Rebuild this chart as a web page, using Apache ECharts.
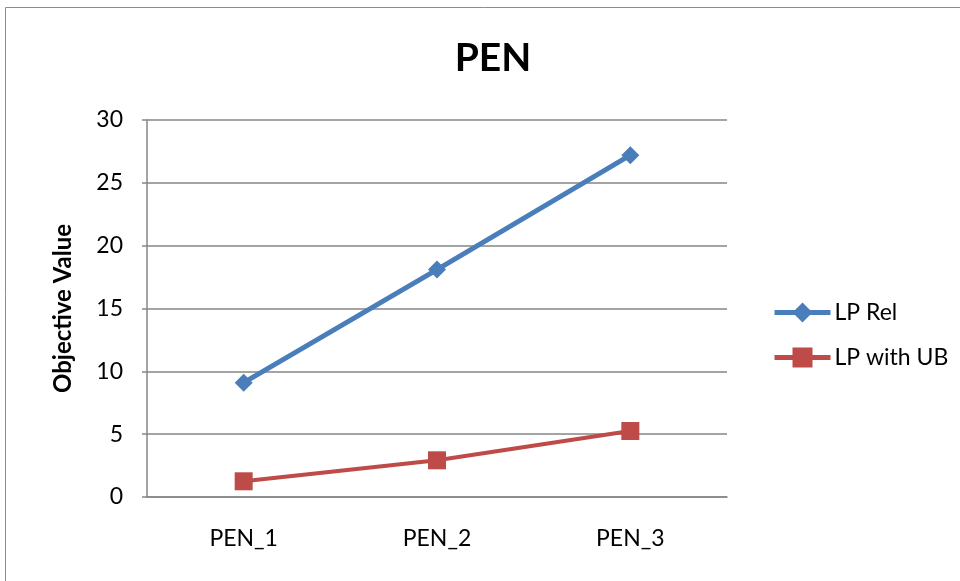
<!DOCTYPE html>
<html>
<head>
<meta charset="utf-8">
<script src="https://cdn.jsdelivr.net/npm/echarts@6/dist/echarts.min.js"></script>
<style>
  html, body { margin: 0; padding: 0; background: #fff; }
  #chart { width: 960px; height: 581px; }
</style>
</head>
<body>
<div id="chart"></div>
<script>
// Categories and series values
const categories = ['PEN_1', 'PEN_2', 'PEN_3'];
const lpRel = [9.1, 18.1, 27.2];
const lpWithUB = [1.25, 2.92, 5.25];
const seriesNames = ['LP Rel', 'LP with UB'];
const titleText = 'PEN';
const yAxisName = 'Objective Value';

const FONT = 'Lato, "Open Sans", sans-serif';
const BLUE = '#4A7EBB';
const RED = '#BE4B48';
const chart = echarts.init(document.getElementById('chart'));

chart.setOption({
  animation: false,
  backgroundColor: '#fff',
  graphic: [{
    type: 'rect',
    shape: { x: 5.5, y: 7.5, width: 1000, height: 1000 },
    style: { fill: 'none', stroke: '#8c8c8c', lineWidth: 1 },
    silent: true
  }],
  title: {
    text: titleText,
    left: 488,
    textAlign: 'center',
    top: 34,
    textStyle: { fontFamily: FONT, fontWeight: 'bold', fontSize: 39, color: '#000' }
  },
  legend: {
    orient: 'vertical',
    left: 767,
    top: 296,
    itemWidth: 56,
    itemHeight: 25,
    itemGap: 22,
    data: [
      { name: seriesNames[0], lineStyle: { width: 5, color: BLUE } },
      { name: seriesNames[1], lineStyle: { width: 5, color: RED } }
    ],
    textStyle: { fontFamily: FONT, fontSize: 23, color: '#000', padding: [0, 0, 0, -1] }
  },
  grid: { left: 147, right: 233, top: 120, bottom: 84, containLabel: false },
  xAxis: {
    type: 'category',
    data: categories,
    boundaryGap: true,
    axisLine: { lineStyle: { color: '#868686', width: 1.5 } },
    axisTick: { show: false },
    axisLabel: { fontFamily: FONT, fontSize: 23, color: '#000', margin: 30 }
  },
  yAxis: {
    type: 'value',
    min: 0,
    max: 30,
    interval: 5,
    name: yAxisName,
    nameLocation: 'middle',
    nameGap: 72,
    nameTextStyle: { fontFamily: FONT, fontWeight: 'bold', fontSize: 24, color: '#000' },
    axisLine: { show: true, lineStyle: { color: '#868686', width: 1.5 } },
    axisTick: { show: true, length: 5, lineStyle: { color: '#868686', width: 1.5 } },
    axisLabel: { fontFamily: FONT, fontSize: 23, color: '#000', margin: 24 },
    splitLine: { lineStyle: { color: '#868686', width: 1.5 } }
  },
  series: [
    {
      name: seriesNames[0],
      type: 'line',
      data: lpRel,
      symbol: 'diamond',
      symbolSize: 18,
      lineStyle: { color: BLUE, width: 5 },
      itemStyle: { color: BLUE }
    },
    {
      name: seriesNames[1],
      type: 'line',
      data: lpWithUB,
      symbol: 'rect',
      symbolSize: 18,
      lineStyle: { color: RED, width: 4 },
      itemStyle: { color: RED }
    }
  ]
});
</script>
</body>
</html>
